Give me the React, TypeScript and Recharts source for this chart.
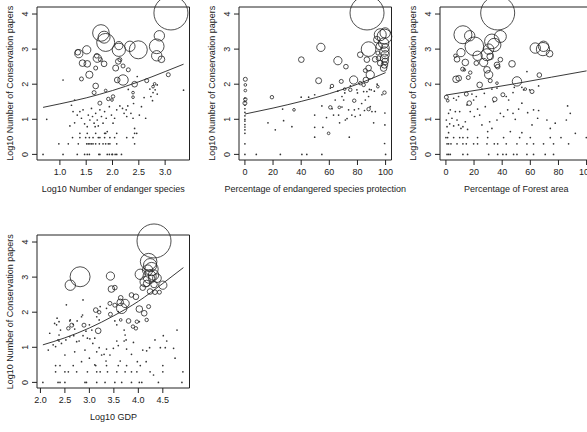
import React from 'react';
import { ComposedChart, Scatter, Line, XAxis, YAxis, ReferenceArea } from 'recharts';

type Bubble = [number, number, number]; // [x, log10 papers, bubble weight]
type Pair = [number, number];

const FONT = '"Liberation Sans", Arial, Helvetica, sans-serif';
const INK = '#222';

const Y_TITLE = 'Log10 Number of Conservation papers';
const paperTicks = [0, 1, 2, 3, 4];
const paperDomain: [number, number] = [-0.16, 4.2];

// ---- Log10 number of endangered species ----
const endangerTicks = [1.0, 1.5, 2.0, 2.5, 3.0];
const endangerBubbles: Bubble[] = [
  [3.11, 4.03, 289], [1.78, 3.46, 69], [1.87, 3.19, 81], [1.84, 3.34, 36], [2.12, 2.98, 44],
  [2.12, 3.1, 17], [2.49, 2.98, 81], [2.33, 3.08, 27], [2.89, 3.38, 27], [2.84, 3.08, 54],
  [2.84, 2.81, 27], [2.93, 2.71, 11], [1.51, 2.98, 17], [1.36, 2.87, 17], [1.34, 2.91, 8],
  [1.71, 2.74, 17], [1.7, 2.81, 5.4], [1.43, 2.6, 11], [1.52, 2.58, 11], [1.56, 2.27, 13],
  [1.84, 2.58, 8], [1.77, 2.7, 4], [1.68, 2.46, 4], [2.06, 2.46, 9], [2.11, 2.65, 8],
  [2.14, 2.7, 4], [2.2, 2.52, 4], [2.3, 2.41, 4], [1.41, 2.15, 4], [2.2, 2.12, 27],
  [2.09, 2.12, 8], [2.42, 2.0, 8], [2.65, 2.1, 4], [2.77, 1.93, 1.8], [3.06, 2.27, 4],
  [1.68, 1.95, 8], [1.65, 1.76, 4], [1.76, 1.46, 4], [1.87, 1.82, 1.8], [1.92, 1.58, 3],
  [1.99, 1.55, 1.8], [2.01, 1.65, 3], [2.39, 1.63, 1.8], [2.8, 2.01, 1.8], [2.39, 1.76, 1.8],
];
const endangerDots: Pair[] = [
  [0.68, 0], [1.06, 0], [1.33, 0], [1.47, 0], [1.52, 0], [1.56, 0], [1.74, 0], [1.76, 0],
  [1.9, 0], [1.94, 0], [1.99, 0], [2.0, 0], [2.05, 0], [2.08, 0], [2.17, 0],
  [0.98, 0.3], [1.16, 0.3], [1.35, 0.3], [1.51, 0.3], [1.54, 0.3], [1.57, 0.3], [1.6, 0.3],
  [1.63, 0.3], [1.68, 0.3], [1.75, 0.3], [1.82, 0.3], [1.87, 0.3], [1.92, 0.3], [1.95, 0.3],
  [2.08, 0.3], [2.42, 0.3],
  [1.24, 0.48], [1.38, 0.48], [1.49, 0.48], [1.56, 0.48], [1.63, 0.48], [1.73, 0.48],
  [1.76, 0.48], [1.85, 0.48], [1.95, 0.48], [2.04, 0.48], [2.27, 0.48], [2.39, 0.48],
  [1.38, 0.6], [1.52, 0.6], [1.68, 0.6], [1.85, 0.6], [1.87, 0.6], [2.08, 0.6], [2.42, 0.6],
  [0.75, 1.0], [1.19, 0.81], [1.28, 0.9], [1.25, 1.22], [1.33, 1.12], [1.38, 1.22], [1.41, 1.03],
  [1.44, 1.27], [1.47, 0.87], [1.52, 0.79], [1.54, 1.12], [1.57, 0.98], [1.6, 1.31], [1.62, 1.08],
  [1.65, 0.89], [1.67, 0.79], [1.68, 1.17], [1.71, 0.98], [1.73, 0.81], [1.76, 1.27], [1.79, 1.08],
  [1.82, 0.89], [1.85, 1.22], [1.88, 1.03], [1.9, 0.65], [1.94, 1.36], [1.98, 1.12], [2.01, 0.89],
  [2.04, 1.03], [2.08, 1.27], [2.14, 1.38], [2.19, 1.31], [2.22, 1.17], [2.27, 1.08], [2.26, 1.27],
  [2.29, 1.38], [2.35, 1.17], [2.39, 1.03], [2.42, 0.74], [2.51, 1.12], [2.55, 1.36], [2.63, 1.03],
  [2.71, 1.86], [2.73, 1.65], [2.76, 1.53], [2.77, 1.76], [2.81, 1.84], [3.35, 1.83], [1.06, 2.12],
  [1.28, 1.55], [1.22, 1.4], [2.47, 2.22], [2.4, 1.45], [2.6, 1.62], [2.3, 1.85], [2.85, 1.98],
  [2.85, 1.72], [2.46, 0.6],
];
const endangerTrend: Pair[] = [
  [0.68, 1.34], [1.0, 1.44], [1.5, 1.61], [2.0, 1.82], [2.5, 2.07], [3.0, 2.36], [3.35, 2.57],
];

// ---- Percentage of endangered species protection ----
const protectionTicks = [0, 20, 40, 60, 80, 100];
const protectionBubbles: Bubble[] = [
  [86.8, 4.03, 289], [99.2, 3.36, 54], [99.7, 3.46, 27], [96.2, 3.41, 36], [98.6, 3.17, 27],
  [99.7, 3.03, 17], [99.2, 2.93, 22], [99.7, 2.84, 17], [99.2, 2.74, 17], [99.7, 2.65, 11],
  [99.2, 2.55, 11], [98.6, 2.46, 11], [96.2, 2.6, 8], [95, 2.74, 5.4], [94.5, 2.89, 4],
  [95.5, 3.08, 11], [93.8, 3.27, 11], [87.9, 3.0, 54], [82, 2.84, 8], [86.7, 2.7, 8],
  [87.9, 2.46, 8], [89.1, 2.27, 17], [85.6, 2.39, 4], [86, 2.12, 8], [77.3, 2.12, 17],
  [84.4, 1.98, 3], [82, 2.03, 3], [54, 3.05, 17], [66.1, 2.67, 17], [40.1, 2.7, 8],
  [71.8, 2.5, 5.4], [52.4, 2.1, 9], [61.9, 1.95, 3], [68.5, 2.08, 4], [74.9, 1.84, 3],
  [70.9, 1.86, 1.8], [77.7, 1.53, 3], [60.7, 1.34, 3], [67.1, 1.34, 1.8], [87.9, 1.29, 3],
  [94.5, 1.93, 1.8], [99.2, 1.76, 3], [0.3, 2.14, 4], [0.3, 1.98, 1.8], [0.3, 1.82, 1.8],
  [0.3, 1.57, 3], [0, 1.46, 4], [19.2, 1.63, 3], [34.9, 1.27, 1.8], [59.5, 0.6, 1.8],
  [92.6, 2.71, 8],
];
const protectionDots: Pair[] = [
  [0, 1.6], [0, 1.5], [0, 1.4], [0, 1.3], [0, 1.2], [0, 1.1], [0, 1.0], [0, 0.95], [0, 0.85],
  [0, 0.78], [0, 0.7], [0, 0.6], [0, 0.3], [0, 0],
  [8.1, 0], [25.2, 0], [40.5, 0], [44, 0], [54.7, 0], [16.4, 0.9], [21.6, 0.7], [26.8, 1.29],
  [27.5, 0.96], [33.4, 0.79], [40, 1.63], [45.3, 1.63], [49.6, 1.7], [49.6, 1.12], [49.6, 0.77],
  [49.6, 0.49], [54.7, 1.38], [55.4, 0.77], [60.7, 1.89], [63, 1.12], [64.2, 1.55], [66.6, 1.12],
  [67.3, 0.9], [69, 1.35], [69, 1.65], [70.2, 1.55], [71.4, 0.98], [72.6, 1.02], [73.7, 1.27],
  [74.2, 0.49], [76, 1.12], [77.8, 1.27], [78.4, 1.08], [79.6, 1.84], [80.8, 1.3], [82, 1.12],
  [84.4, 1.79], [85.6, 1.55], [86.7, 1.79], [87.9, 1.65], [89.1, 1.36], [89.8, 1.84], [90.3, 1.22],
  [91.5, 0.9], [92.7, 1.22], [97.4, 1.7], [99.3, 0.31], [99.5, 1.18], [99.5, 0.84], [100, 0],
  [62, 1.3], [58, 1.05], [66, 1.8], [71, 1.75], [75, 1.95], [80, 1.75], [83, 1.45], [85, 1.25],
  [88.5, 1.85], [92, 1.8], [94, 2.0],
];
const protectionTrend: Pair[] = [
  [0, 1.15], [20, 1.32], [40, 1.51], [60, 1.73], [80, 2.0], [100, 2.33],
];

// ---- Percentage of forest area ----
const forestTicks = [0, 20, 40, 60, 80, 100];
const forestBubbles: Bubble[] = [
  [36.8, 4.03, 289], [12.1, 3.41, 81], [16.9, 3.38, 27], [20.2, 3.08, 87], [10.7, 2.9, 17],
  [13.8, 2.62, 11], [22.5, 2.81, 22], [29.2, 2.84, 36], [32.7, 3.22, 54], [34.4, 3.12, 44],
  [38.7, 3.36, 36], [30.4, 3.0, 27], [31.5, 2.79, 11], [26.8, 2.62, 17], [29.2, 2.41, 11],
  [36.3, 2.55, 8], [38.7, 2.7, 5.4], [36.8, 2.5, 5.4], [7.9, 2.71, 8], [7.2, 2.14, 11],
  [9.1, 2.17, 8], [11.9, 2.43, 4], [15.9, 2.19, 4], [17.3, 2.33, 3], [21.6, 2.6, 5.4],
  [30.4, 2.27, 17], [31.5, 2.1, 4], [36.3, 2.03, 1.8], [24, 1.98, 8], [47, 2.58, 11],
  [50.5, 2.08, 22], [63.5, 3.03, 27], [69, 3.0, 44], [69.4, 3.08, 27], [73.7, 2.87, 11],
  [66.4, 2.26, 5.4], [61.2, 1.79, 4], [56.4, 1.86, 1.8], [34.7, 1.57, 5.4], [40.5, 1.7, 4],
  [14.5, 1.72, 4], [0.3, 1.63, 4], [16.6, 1.46, 5.4], [1.3, 1.53, 1.8], [13.1, 2.41, 1.8],
  [6.7, 2.81, 3],
];
const forestDots: Pair[] = [
  [0.8, 0], [1.9, 0], [3.1, 0], [12.1, 0], [15.4, 0], [30.4, 0], [36.8, 0], [40.5, 0], [42.9, 0],
  [48.1, 0], [50.5, 0], [57.6, 0], [62.3, 0], [70.6, 0], [76.5, 0],
  [0.8, 0.3], [1.9, 0.3], [3.6, 0.3], [7.9, 0.3], [12.1, 0.3], [14.5, 0.3], [19.7, 0.3], [22.5, 0.3],
  [29.2, 0.3], [34.4, 0.3], [36.8, 0.3], [42.9, 0.3], [50.5, 0.3], [57.6, 0.3], [62.3, 0.3],
  [69.4, 0.3], [76.5, 0.3], [87.2, 0.3],
  [0, 0.48], [1.2, 0.48], [5.5, 0.48], [9.8, 0.48], [12.1, 0.48], [15.4, 0.48], [22.5, 0.48],
  [29.7, 0.48], [41, 0.48], [52.4, 0.48], [60, 0.48], [74.2, 0.48], [81.8, 0.48], [99.8, 0.48],
  [0.3, 0.98], [0.8, 0.79], [1.9, 0.62], [1.9, 1.17], [3.1, 1.27], [2.7, 0.87], [4.3, 1.03],
  [5.5, 0.81], [6.7, 1.22], [7.9, 0.98], [9, 0.84], [10.7, 0.74], [12.1, 0.79], [13.8, 0.93],
  [15.4, 0.71], [17.3, 1.22], [20.2, 1.08], [22.5, 1.29], [24, 1.12], [25.6, 0.84], [29.7, 0.65],
  [31.1, 0.93], [32.7, 0.74], [36.3, 0.98], [38.7, 1.17], [41, 1.08], [43.9, 1.27], [45.8, 0.65],
  [47.7, 1.17], [49.3, 1.0], [51.7, 1.29], [54, 0.62], [58.1, 1.19], [61.2, 0.84], [65.2, 1.03],
  [65.9, 1.25], [71.8, 0.98], [74.2, 0.74], [85.6, 0.98], [86.5, 1.38], [88.4, 1.17], [92, 0.6],
  [5.5, 1.6], [9, 1.65], [18.5, 1.72], [21.6, 1.65], [25.6, 1.86], [27.3, 1.74], [32.7, 1.86],
  [36.3, 1.89], [42.9, 1.65], [44.6, 1.55], [47.7, 1.76], [48.6, 1.91], [54, 1.91], [55.2, 1.84],
  [59.5, 1.84], [65.9, 1.95], [7.4, 1.55], [9.8, 1.22], [15, 1.41], [19.7, 1.55], [28, 1.36],
  [33.9, 1.5], [54, 1.46], [62.3, 1.27], [77.7, 0.89], [57.6, 2.36],
];
const forestTrend: Pair[] = [
  [0, 1.69], [25, 1.85], [50, 2.02], [75, 2.2], [100, 2.38],
];

// ---- Log10 GDP ----
const gdpTicks = [2.0, 2.5, 3.0, 3.5, 4.0, 4.5];
const gdpBubbles: Bubble[] = [
  [4.32, 4.03, 289], [2.81, 3.01, 100], [2.61, 2.77, 27], [3.43, 3.03, 17], [3.45, 2.66, 11],
  [3.52, 2.7, 5.4], [4.21, 3.44, 69], [4.24, 3.34, 44], [4.19, 3.2, 27], [4.27, 3.23, 44],
  [4.04, 3.08, 27], [4.23, 3.01, 44], [4.31, 3.06, 27], [4.38, 2.97, 19], [4.14, 2.87, 27],
  [4.17, 2.82, 11], [4.27, 2.97, 11], [4.32, 2.79, 11], [4.5, 2.77, 17], [4.09, 2.7, 8],
  [4.24, 2.59, 8], [4.34, 2.57, 5.4], [4.43, 2.57, 4], [3.63, 2.28, 11], [3.73, 2.25, 17],
  [3.64, 2.41, 5.4], [3.66, 2.11, 27], [3.42, 2.25, 4], [3.52, 2.2, 4], [3.43, 1.94, 4],
  [3.86, 2.49, 5.4], [3.95, 2.44, 8], [4.02, 2.09, 11], [4.12, 1.97, 8], [4.21, 2.16, 4],
  [4.17, 1.78, 3], [3.97, 1.73, 3], [3.89, 1.59, 3], [3.95, 1.54, 3], [3.8, 1.75, 5.4],
  [3.13, 2.06, 5.4], [3.2, 2.0, 3], [3.18, 1.47, 8], [2.89, 1.63, 4], [2.64, 1.63, 4],
  [2.57, 1.54, 3], [3.64, 1.78, 1.8],
];
const gdpDots: Pair[] = [
  [2.05, 0], [2.36, 0], [2.4, 0], [2.5, 0], [2.91, 0], [2.94, 0], [3.15, 0], [3.32, 0], [3.52, 0],
  [3.66, 0], [3.86, 0], [4.02, 0], [4.07, 0], [4.41, 0], [4.89, 0],
  [2.31, 0.3], [2.5, 0.3], [2.57, 0.3], [2.74, 0.3], [2.96, 0.3], [3.15, 0.3], [3.22, 0.3],
  [3.37, 0.3], [3.56, 0.3], [3.73, 0.3], [3.86, 0.3], [3.97, 0.3], [4.24, 0.3], [4.5, 0.3],
  [4.91, 0.3],
  [2.31, 0.48], [2.4, 0.48], [2.67, 0.48], [3.13, 0.48], [3.35, 0.48], [3.59, 0.48], [3.76, 0.48],
  [4.04, 0.48], [4.5, 0.48],
  [2.16, 0.92], [2.36, 1.21], [2.38, 1.18], [2.31, 1.02], [2.43, 1.11], [2.52, 1.21], [2.6, 1.3],
  [2.68, 1.33], [2.74, 1.16], [2.79, 1.18], [2.87, 1.33], [2.91, 0.92], [2.96, 1.26], [3.01, 1.24],
  [3.07, 1.11], [3.11, 1.26], [3.15, 0.87], [3.2, 0.99], [3.25, 0.78], [3.3, 0.8], [3.34, 0.61],
  [3.35, 0.95], [3.42, 0.78], [3.49, 0.97], [3.56, 1.18], [3.59, 1.05], [3.63, 0.61], [3.71, 1.18],
  [3.75, 1.21], [3.76, 0.95], [3.86, 0.8], [3.9, 1.14], [3.98, 0.59], [4.09, 0.92], [4.17, 0.9],
  [4.23, 0.99], [4.34, 1.21], [4.45, 0.99], [4.51, 1.33], [4.55, 0.99], [4.58, 1.18],
  [2.29, 1.68], [2.33, 1.64], [2.34, 1.83], [2.38, 1.73], [2.41, 1.49], [2.38, 1.35], [2.53, 2.21],
  [2.6, 1.75], [2.61, 1.78], [2.67, 1.65], [2.7, 1.52], [2.75, 1.75], [2.84, 1.87], [2.86, 1.92],
  [2.93, 1.46], [3.0, 1.64], [3.05, 1.49], [3.15, 1.87], [3.2, 1.78], [3.22, 2.16], [3.35, 2.11],
  [3.52, 1.75], [3.56, 1.64], [3.59, 2.02], [3.71, 1.49], [3.73, 1.35], [4.02, 1.73], [2.87, 2.35],
  [2.19, 1.4], [2.26, 1.07], [2.5, 0.78], [2.7, 0.87], [2.84, 0.59], [3.0, 0.69], [3.11, 0.5],
  [4.16, 0.59], [4.31, 0.21], [4.75, 0.69], [4.79, 1.49], [4.72, 0.97],
];
const gdpTrend: Pair[] = [
  [2.05, 1.07], [2.5, 1.27], [3.0, 1.55], [3.5, 1.9], [4.0, 2.31], [4.5, 2.82], [4.92, 3.27],
];

// ---- layout ----
const BOX_W = 152.5;
const BOX_H = 153;
const Y_AXIS_W = 37;
const TOP_PAD = 25;
const RIGHT_PAD = 4;
const X_AXIS_H = 45;

type PanelCfg = {
  key: string;
  left: number;
  top: number;
  xDomain: [number, number];
  xTicks: number[];
  decimals: number;
  xTitle: string;
  bubbles: Bubble[];
  dots: Pair[];
  trend: Pair[];
};

const panels: PanelCfg[] = [
  {
    key: 'endanger', left: 37, top: 6.7, xDomain: [0.565, 3.463], xTicks: endangerTicks, decimals: 1,
    xTitle: 'Log10 Number of endanger species', bubbles: endangerBubbles, dots: endangerDots, trend: endangerTrend,
  },
  {
    key: 'protection', left: 239, top: 6.7, xDomain: [-4.2, 104.2], xTicks: protectionTicks, decimals: 0,
    xTitle: 'Percentage of endangered species protection', bubbles: protectionBubbles, dots: protectionDots, trend: protectionTrend,
  },
  {
    key: 'forest', left: 440, top: 6.7, xDomain: [-4.2, 104.2], xTicks: forestTicks, decimals: 0,
    xTitle: 'Percentage of Forest area', bubbles: forestBubbles, dots: forestDots, trend: forestTrend,
  },
  {
    key: 'gdp', left: 37.3, top: 235.2, xDomain: [1.93, 5.045], xTicks: gdpTicks, decimals: 1,
    xTitle: 'Log10 GDP', bubbles: gdpBubbles, dots: gdpDots, trend: gdpTrend,
  },
];

const renderBubble = (props: any) => {
  const { cx, cy, payload } = props;
  const r = Math.sqrt(payload.w);
  return <circle cx={cx} cy={cy} r={r} fill="none" stroke={INK} strokeWidth={0.8} />;
};

const renderDot = (props: any) => {
  const { cx, cy } = props;
  return <circle cx={cx} cy={cy} r={0.85} fill="#333" />;
};

const RotatedTick = (props: any) => {
  const { x, y, payload } = props;
  return (
    <text x={x} y={y} transform={`rotate(-90 ${x} ${y})`} textAnchor="middle"
      fontSize={9} fill={INK} fontFamily={FONT}>
      {payload.value}
    </text>
  );
};

function Panel({ cfg }: { cfg: PanelCfg }) {
  const width = Y_AXIS_W + BOX_W + RIGHT_PAD;
  const height = TOP_PAD + BOX_H + X_AXIS_H;
  const bubbles = cfg.bubbles.map(([x, y, w]) => ({ x, y, w }));
  const dots = cfg.dots.map(([x, y]) => ({ x, y }));
  const trend = cfg.trend.map(([x, y]) => ({ x, y }));
  return (
    <div style={{ position: 'absolute', left: cfg.left - Y_AXIS_W, top: cfg.top - TOP_PAD }}>
      <ComposedChart width={width} height={height}
        margin={{ top: TOP_PAD, right: RIGHT_PAD, bottom: 0, left: 0 }}>
        <XAxis type="number" dataKey="x" domain={cfg.xDomain} ticks={cfg.xTicks} interval={0}
          tickFormatter={(v: number) => v.toFixed(cfg.decimals)} axisLine={false}
          tickSize={5} tickMargin={4} height={X_AXIS_H}
          tick={{ fontSize: 9, fill: INK, fontFamily: FONT }} tickLine={{ stroke: INK }} />
        <YAxis type="number" dataKey="y" domain={paperDomain} ticks={paperTicks} interval={0}
          width={Y_AXIS_W} axisLine={false} tickSize={5} tickMargin={4}
          tick={<RotatedTick />} tickLine={{ stroke: INK }} />
        <ReferenceArea x1={cfg.xDomain[0]} x2={cfg.xDomain[1]} y1={paperDomain[0]} y2={paperDomain[1]}
          fill="none" fillOpacity={0} stroke={INK} strokeWidth={1} ifOverflow="visible" />
        <Scatter data={dots} shape={renderDot} isAnimationActive={false} />
        <Scatter data={bubbles} shape={renderBubble} isAnimationActive={false} />
        <Line data={trend} dataKey="y" type="monotone" dot={false} activeDot={false}
          stroke={INK} strokeWidth={0.9} isAnimationActive={false} />
      </ComposedChart>
    </div>
  );
}

export default function App() {
  return (
    <div style={{ position: 'fixed', left: 0, top: 0, width: 587, height: 432, overflow: 'hidden', background: '#fff' }}>
      {panels.map((p) => <Panel key={p.key} cfg={p} />)}
      <svg width={587} height={432} style={{ position: 'absolute', left: 0, top: 0, pointerEvents: 'none' }}>
        {panels.map((p) => (
          <g key={p.key} fontFamily={FONT} fontSize={9} fill={INK}>
            <text x={p.left + BOX_W / 2} y={p.top + BOX_H + 32} textAnchor="middle">{p.xTitle}</text>
            <text transform={`translate(${p.left - 24} ${p.top + BOX_H / 2}) rotate(-90)`} textAnchor="middle">
              {Y_TITLE}
            </text>
          </g>
        ))}
      </svg>
    </div>
  );
}
